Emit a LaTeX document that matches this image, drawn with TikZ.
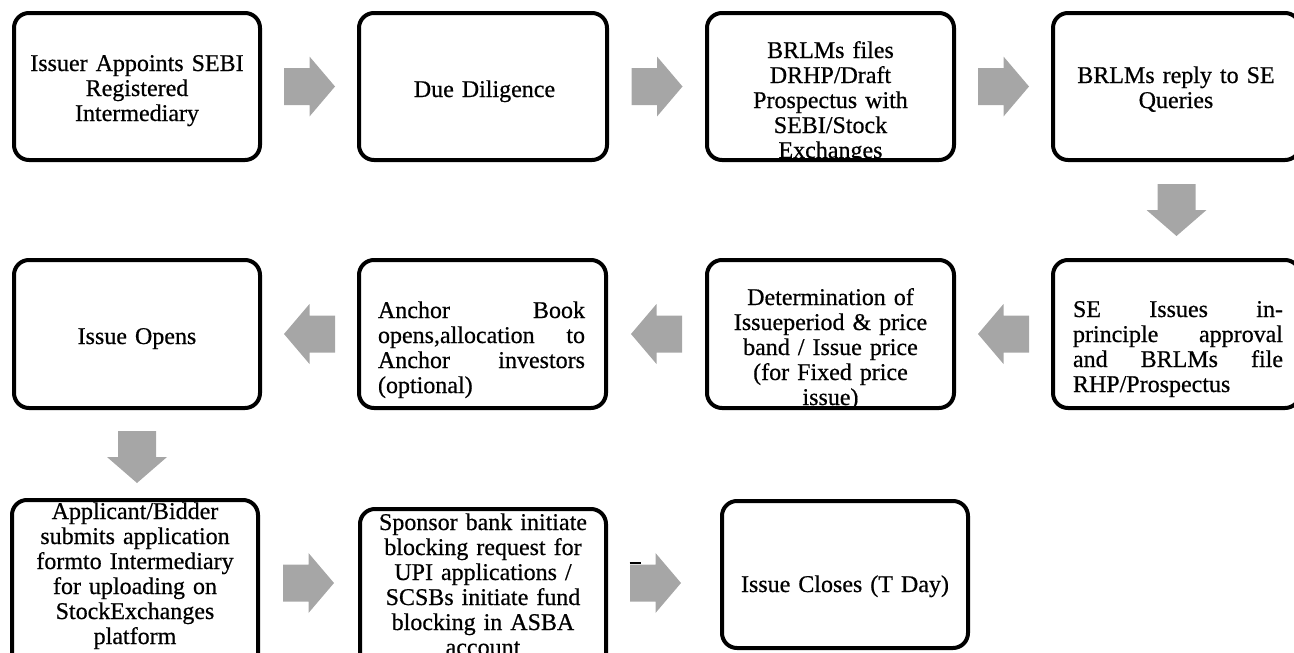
\documentclass[tikz,border=0pt]{standalone}
\usepackage{fontspec}
\setmainfont{Liberation Serif}[FakeBold=0.6]
\usetikzlibrary{calc}
\definecolor{arrowgray}{HTML}{A6A6A6}
\begin{document}
\begin{tikzpicture}[x=1pt,y=-1pt,
  boxshape/.style={rectangle, inner sep=0pt, outer sep=0pt},
  boxline/.style={draw=black, line width=4pt, rounded corners=15pt},
  txt/.style={inner sep=0pt, outer sep=0pt, anchor=north, text width=240pt, align=center,
    font=\fontsize{24}{25}\selectfont},
  jtxt/.style={txt, anchor=north west, align=left, text width=#1},
  rarrow/.pic={\fill[arrowgray] (-25.5,-18.5) -- (0,-18.5) -- (0,-30) -- (25.5,0) -- (0,30) -- (0,18.5) -- (-25.5,18.5) -- cycle;},
  larrow/.pic={\fill[arrowgray] (25.5,-18.5) -- (0,-18.5) -- (0,-30) -- (-25.5,0) -- (0,30) -- (0,18.5) -- (25.5,18.5) -- cycle;},
  darrow/.pic={\fill[arrowgray] (-19,-26) -- (19,-26) -- (19,0) -- (30,0) -- (0,26) -- (-30,0) -- (-19,0) -- cycle;}
]
\useasboundingbox (0,0) rectangle (1294,653);
\clip (0,0) rectangle (1294,653);

% box frames (named)
\node[boxshape, minimum width=246pt, minimum height=147pt] (b1) at (137,86.5) {};
\node[boxshape, minimum width=248pt, minimum height=147pt] (b2) at (483,86.5) {};
\node[boxshape, minimum width=247pt, minimum height=147pt] (b3) at (830.5,86.5) {};
\node[boxshape, minimum width=247pt, minimum height=147pt] (b4) at (1176.5,86.5) {};
\node[boxshape, minimum width=247pt, minimum height=148pt] (b5) at (1176.5,334) {};
\node[boxshape, minimum width=247pt, minimum height=148pt] (b6) at (830.5,334) {};
\node[boxshape, minimum width=247pt, minimum height=148pt] (b7) at (482.5,334) {};
\node[boxshape, minimum width=246pt, minimum height=148pt] (b8) at (137,334) {};
\node[boxshape, minimum width=246pt, minimum height=188pt] (b9) at (135,594) {};
\node[boxshape, minimum width=246pt, minimum height=179pt] (b10) at (483,598.5) {};
\node[boxshape, minimum width=246pt, minimum height=147pt] (b11) at (845,574.5) {};

% texts
\node[txt] (t1) at (137,53.5) {\strut Issuer Appoints SEBI\\Registered\\Intermediary};
\node[txt] (t2) at (484.5,79.5) {\strut Due Diligence};
\begin{scope}
\clip (b3.south west) rectangle (b3.north east);
\node[txt] (t3) at (830.5,40.5) {\strut BRLMs files\\DRHP/Draft\\Prospectus with\\SEBI/Stock\\Exchanges};
\end{scope}
\node[txt] (t4) at (1176,65.5) {\strut BRLMs reply to SE\\Queries};
\node[jtxt=210pt] (t5) at (1073,299.5) {\strut\makebox[210pt][l]{SE\hfill Issues\hfill in-}\\\makebox[210pt][l]{principle\hfill approval}\\\makebox[210pt][l]{and\hfill BRLMs\hfill file}\\RHP/Prospectus};
\begin{scope}
\clip (b6.south west) rectangle (b6.north east);
\node[txt] (t6) at (830.5,287.5) {\strut Determination of\\Issueperiod \& price\\band / Issue price\\(for Fixed price\\issue)};
\end{scope}
\node[jtxt=207pt] (t7) at (378,300.5) {\strut\makebox[207pt][l]{Anchor\hfill Book}\\\makebox[207pt][l]{opens,allocation\hfill to}\\\makebox[207pt][l]{Anchor\hfill investors}\\(optional)};
\node[txt] (t8) at (137,326.5) {\strut Issue Opens};
\node[txt] (t9) at (135,501.5) {\strut Applicant/Bidder\\submits application\\formto Intermediary\\for uploading on\\StockExchanges\\platform};
\node[txt] (t10) at (483,512.5) {\strut Sponsor bank initiate\\blocking request for\\UPI applications /\\SCSBs initiate fund\\blocking in ASBA\\account};
\node[txt] (t11) at (845,574.5) {\strut Issue Closes (T Day)};

% borders on top
\foreach \i in {1,...,11} \draw[boxline] (b\i.south west) rectangle (b\i.north east);

% block arrows
\coordinate (a1) at ($(b1.east)!0.5!(b2.west)$);
\coordinate (a2) at ($(b2.east)!0.5!(b3.west)$);
\coordinate (a3) at ($(b3.east)!0.5!(b4.west)$);
\coordinate (a4) at ($(b4.south)!0.5!(b5.north)$);
\coordinate (a5) at ($(b5.west)!0.5!(b6.east)$);
\coordinate (a6) at ($(b6.west)!0.5!(b7.east)$);
\coordinate (a7) at ($(b7.west)!0.5!(b8.east)$);
\coordinate (a8) at (137,457);
\coordinate (a9) at (308.5,583);
\coordinate (a10) at (655.5,583);
\pic at (a1) {rarrow};
\pic at (a2) {rarrow};
\pic at (a3) {rarrow};
\pic at (a4) {darrow};
\pic at (a5) {larrow};
\pic at (a6) {larrow};
\pic at (a7) {larrow};
\pic at (a8) {darrow};
\pic at (a9) {rarrow};
\pic at (a10) {rarrow};
\draw[line width=2pt] ($(a10)+(-26,-20)$) -- ($(a10)+(-15,-20)$);
\end{tikzpicture}
\end{document}
